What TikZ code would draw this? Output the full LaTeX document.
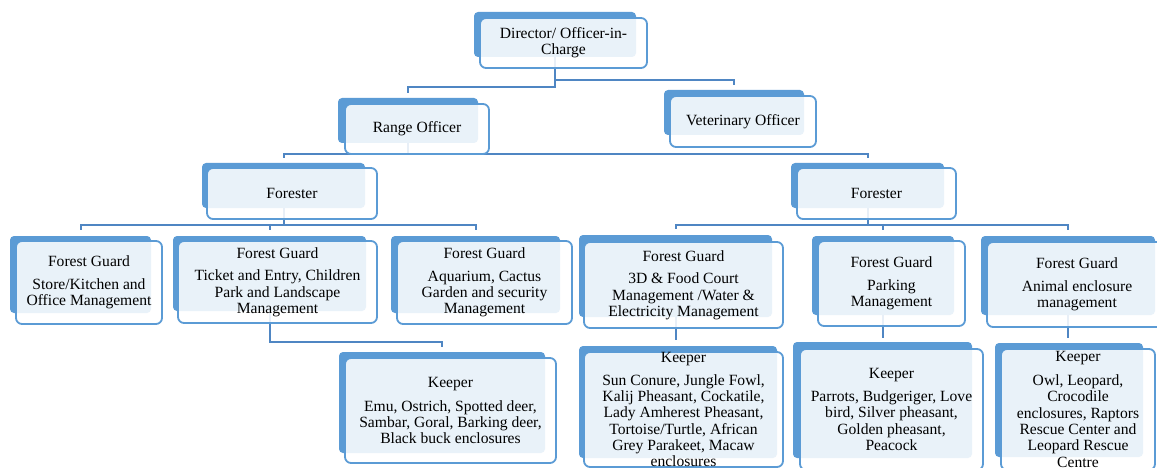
\documentclass[tikz,border=0pt]{standalone}
\usepackage{fontspec}
\setmainfont{Liberation Serif}
\usetikzlibrary{fit,calc,backgrounds}
\definecolor{sbblue}{RGB}{91,155,213}
\definecolor{connblue}{RGB}{79,134,195}
\newcommand\boxfont{\fontsize{15.6pt}{16.3pt}\selectfont}
\tikzset{
  backbox/.style={fill=sbblue, draw=none, rounded corners=4pt, inner sep=0pt},
  frontbox/.style={draw=sbblue, line width=1.8pt, rounded corners=6pt, fill=white, fill opacity=0.87, inner sep=0pt},
  boxtext/.style={align=center, font=\boxfont, inner sep=0pt, text=black},
  conn/.style={draw=connblue, line width=2pt}
}
% #1 name, #2 back top-left, #3 back bottom-right, #4 front top-left, #5 front bottom-right, #6 text
\newcommand\orgbox[6]{%
  \node[backbox, fit={(#2) (#3)}] (#1b) {};
  \node[frontbox, fit={(#4) (#5)}] (#1) {};
  \node[boxtext] (#1t) at (#1.center) {#6};
}
\begin{document}
\begin{tikzpicture}[x=1pt, y=-1pt]
\useasboundingbox (0,0) rectangle (1157,468);

\orgbox{dir}{474,12}{636,57}{480,18}{647,68}{Director/ Officer-in-\\Charge}
\orgbox{range}{338,98}{478,143}{345,104}{489,154}{Range Officer}
\orgbox{vet}{664,90}{804,135}{670,96}{816,147}{Veterinary Officer}
\orgbox{forL}{202,163}{365,208}{207,168}{377,219}{Forester}
\orgbox{forR}{791,163}{944,208}{797,168}{956,219}{Forester}

\orgbox{gA}{10,236}{151,313}{16,241}{162,324}{Forest Guard\\[6.5pt]Store/Kitchen and\\Office Management}
\orgbox{gB}{173,236}{366,311}{178,241}{377,323}{Forest Guard\\[6.5pt]Ticket and Entry, Children\\Park and Landscape\\Management}
\orgbox{gC}{391,236}{560,313}{397,241}{572,324}{Forest Guard\\[6.5pt]Aquarium, Cactus\\Garden and security\\Management}
\orgbox{gD}{579,235}{772,317}{584,242}{783,328}{Forest Guard\\[6.5pt]3D \& Food Court\\Management /Water \&\\Electricity Management}
\orgbox{gE}{812,236}{954,315}{818,241}{965,326}{Forest Guard\\[6.5pt]Parking\\Management}
\orgbox{gF}{981,236}{1155,315}{987,242}{1167,327}{Forest Guard\\[6.5pt]Animal enclosure\\management}

\orgbox{kA}{339,352}{545,453}{345,358}{556,463}{Keeper\\[7.5pt]Emu, Ostrich, Spotted deer,\\Sambar, Goral, Barking deer,\\Black buck enclosures}
\orgbox{kB}{579,346}{777,458}{584,352}{783,467}{Keeper\\[6.5pt]Sun Conure, Jungle Fowl,\\Kalij Pheasant, Cockatile,\\Lady Amherest Pheasant,\\Tortoise/Turtle, African\\Grey Parakeet, Macaw\\enclosures}
\orgbox{kC}{793,342}{972,458}{800,349}{983,470}{Keeper\\[6.5pt]Parrots, Budgeriger, Love\\bird, Silver pheasant,\\Golden pheasant,\\Peacock}
\orgbox{kD}{995,343}{1143,457}{1001,349}{1155,470}{Keeper\\[7.5pt]Owl, Leopard,\\Crocodile\\enclosures, Raptors\\Rescue Center and\\Leopard Rescue\\Centre}

\begin{pgfonlayer}{background}
  % Director to officers
  \draw[conn] (dirb.south) -- ++(0,30) -| ($(rangeb.north)+(0,-5)$);
  \draw[conn] ($(dirb.south)+(0,23)$) -| ($(vetb.north)+(0,-5)$);
  % Range officer to foresters
  \draw[conn] (rangeb.south) -- ++(0,11) -| ($(forLb.north)+(0,-5)$);
  \draw[conn] ($(rangeb.south)+(0,11)$) -| ($(forRb.north)+(0,-5)$);
  % Left forester to guards
  \draw[conn] (forLb.south) -- ++(0,17) -| ($(gAb.north)+(0,-6)$);
  \draw[conn] ($(forLb.south)+(0,17)$) -| ($(gCb.north)+(0,-6)$);
  \draw[conn] ($(gBb.north)+(0,-12)$) -- ($(gBb.north)+(0,-6)$);
  % Right forester to guards
  \draw[conn] (forRb.south) -- ++(0,17) -| ($(gDb.north)+(0,-6)$);
  \draw[conn] ($(forRb.south)+(0,17)$) -| ($(gFb.north)+(0,-6)$);
  \draw[conn] ($(gEb.north)+(0,-12)$) -- ($(gEb.north)+(0,-6)$);
  % Guards to keepers
  \draw[conn] (gBb.south) -- ++(0,31) -| ($(kAb.north)+(0,-5)$);
  \draw[conn] (gDb.south) -- ($(gDb.south |- kBb.north)+(0,-6)$);
  \draw[conn] (gEb.south) -- ($(gEb.south |- kCb.north)+(0,-4)$);
  \draw[conn] (gFb.south) -- ($(gFb.south |- kDb.north)+(0,-5)$);
\end{pgfonlayer}
\end{tikzpicture}
\end{document}
